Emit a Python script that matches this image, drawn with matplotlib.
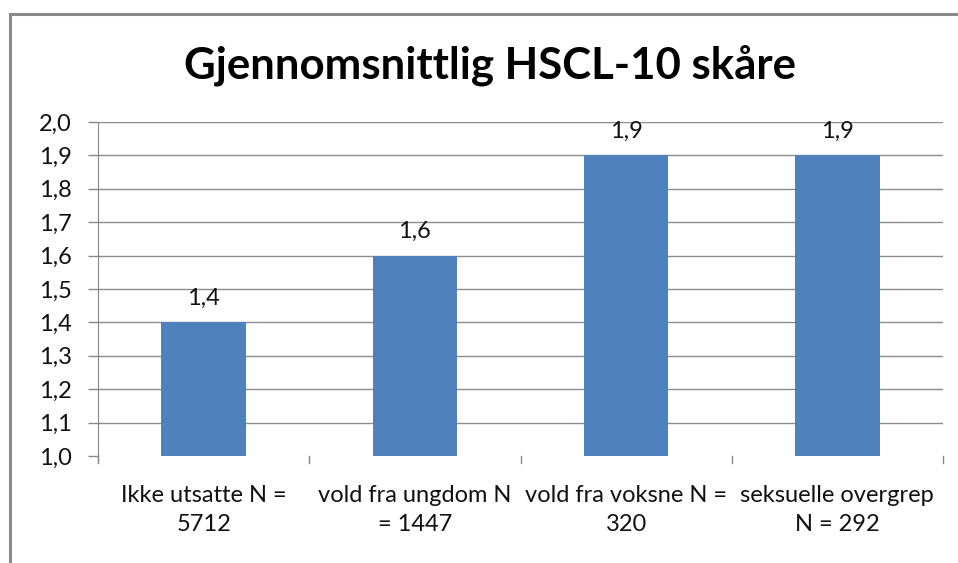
import matplotlib
matplotlib.use("Agg")
import matplotlib.pyplot as plt
from matplotlib.lines import Line2D

categories = ["Ikke utsatte N =\n5712", "vold fra ungdom N\n= 1447",
              "vold fra voksne N =\n320", "seksuelle overgrep\nN = 292"]
values = [1.4, 1.6, 1.9, 1.9]
value_labels = ["1,4", "1,6", "1,9", "1,9"]
yticks = [1.0, 1.1, 1.2, 1.3, 1.4, 1.5, 1.6, 1.7, 1.8, 1.9, 2.0]
ytick_labels = ["1,0", "1,1", "1,2", "1,3", "1,4", "1,5", "1,6", "1,7", "1,8", "1,9", "2,0"]
title = "Gjennomsnittlig HSCL-10 skåre"

plt.rcParams['font.family'] = ['Lato', 'DejaVu Sans']

W, H = 958, 563
fig = plt.figure(figsize=(W / 100, H / 100), dpi=100)
ax = fig.add_axes([98 / W, 1 - 456 / H, (943 - 98) / W, (456 - 122) / H])

FS = 17
x = list(range(len(values)))
ax.bar(x, [v - 1.0 for v in values], bottom=1.0, width=0.4, color="#4F81BD", zorder=3)
for xi, v, lab in zip(x, values, value_labels):
    ax.annotate(lab, (xi, v), xytext=(0, 10), textcoords="offset points",
                ha="center", va="bottom", fontsize=FS, color="#111111")

ax.set_xlim(-0.5, len(values) - 0.5)
ax.set_ylim(1.0, 2.0)
ax.set_yticks(yticks)
ax.set_yticklabels(ytick_labels, fontsize=FS, color="#111111")
ax.tick_params(axis="y", length=7, width=1, color="#888888", pad=12)
ax.set_xticks(x)
ax.set_xticklabels(categories, fontsize=FS, color="#111111", linespacing=1.45)
ax.tick_params(axis="x", length=0, pad=21)
# category boundary tick marks
for b in [i - 0.5 for i in range(len(values) + 1)]:
    ax.plot([b, b], [0, -0.022], transform=ax.get_xaxis_transform(),
            color="#888888", lw=1, clip_on=False)

for y in yticks[1:]:
    ax.axhline(y, color="#8c8c8c", lw=1, zorder=1)
for s in ["top", "right", "bottom"]:
    ax.spines[s].set_visible(False)
ax.spines["left"].set_color("#888888")
ax.spines["left"].set_bounds(0.978, 2.0)

fig.text(490 / W, 1 - 65 / H, title, ha="center", va="center",
         fontsize=31.5, fontweight="bold", color="black")

# outer border (top and left visible)
fig.add_artist(Line2D([10 / W, 1.0], [1 - 14 / H, 1 - 14 / H], transform=fig.transFigure,
                      color="#8a8a8a", lw=2.2))
fig.add_artist(Line2D([10 / W, 10 / W], [0, 1 - 14 / H], transform=fig.transFigure,
                      color="#8a8a8a", lw=2.2))

fig.savefig("out.png", dpi=100)
